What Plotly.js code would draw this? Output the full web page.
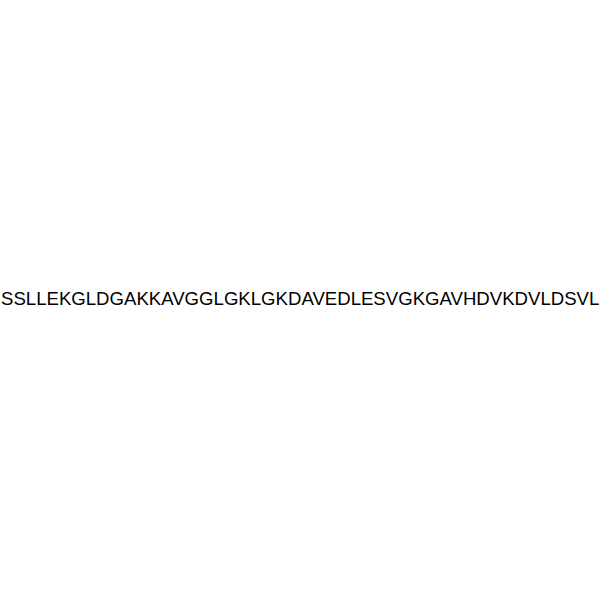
<!DOCTYPE html>
<html>
<head>
<meta charset="utf-8">
<script src="https://cdn.plot.ly/plotly-3.0.1.min.js"></script>
<style>
  html, body { margin: 0; padding: 0; background: #fff; }
  #chart { width: 600px; height: 600px; }
</style>
</head>
<body>
<div id="chart"></div>
<script>
// peptide sequence shown in the picture
var sequence = "SSLLEKGLDGAKKAVGGLGKLGKDAVEDLESVGKGAVHDVKDVLDSVL";
var labelX = [0.5];
var labelY = [0.503];

var layout = {
  width: 600,
  height: 600,
  margin: {l: 0, r: 0, t: 0, b: 0},
  paper_bgcolor: "#ffffff",
  plot_bgcolor: "#ffffff",
  showlegend: false,
  xaxis: {visible: false, range: [0, 1], fixedrange: true},
  yaxis: {visible: false, range: [0, 1], fixedrange: true},
  annotations: [{
    x: labelX[0],
    y: labelY[0],
    xref: "paper",
    yref: "paper",
    text: sequence,
    showarrow: false,
    xanchor: "center",
    yanchor: "middle",
    font: {family: "Liberation Sans, Arial, sans-serif", size: 18.6, color: "#000000"}
  }]
};

Plotly.newPlot("chart", [], layout, {staticPlot: true, displayModeBar: false});
</script>
</body>
</html>
